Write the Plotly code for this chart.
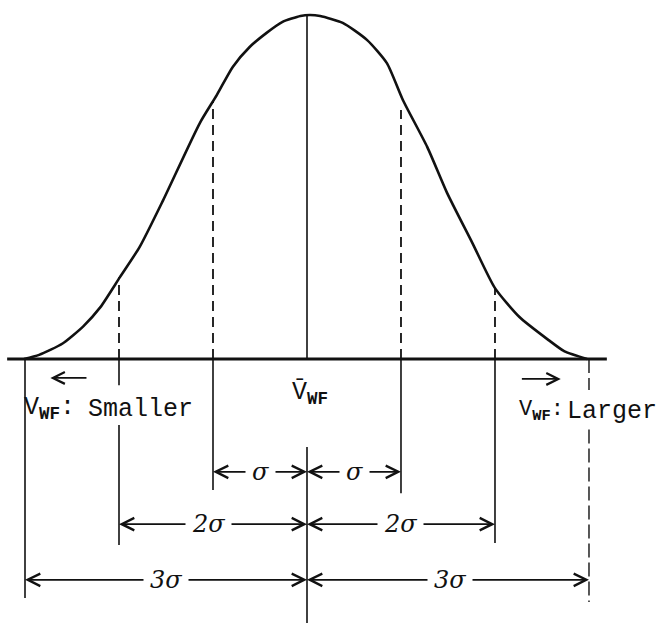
import plotly.graph_objects as go

# Distribution curve, x in units of sigma from the mean, y as relative height
curve_x = [-3.01, -2.85, -2.60, -2.38, -2.20, -1.99, -1.78, -1.53, -1.14, -0.96,
           -0.79, -0.61, -0.43, -0.26, -0.07, 0.03, 0.14, 0.38, 0.64, 0.85, 1.02,
           1.28, 1.49, 1.76, 2.00, 2.26, 2.57, 2.74, 2.98]
curve_y = [0.0, 0.012, 0.045, 0.095, 0.150, 0.238, 0.326, 0.462, 0.686, 0.767,
           0.849, 0.907, 0.948, 0.980, 0.997, 1.0, 0.997, 0.977, 0.927, 0.860,
           0.753, 0.616, 0.483, 0.337, 0.206, 0.122, 0.055, 0.022, 0.0]

# Dashed guides from the curve down to the baseline
guide_x = [-2, -1, 1, 2]
guide_top = [0.238, 0.747, 0.724, 0.206]

# Extension lines below the baseline
ext_x = [-3, -1, 1, 2]
ext_bottom = [-0.695, -0.381, -0.390, -0.535]

# Dimension rows
dim_n = [1, 2, 3]
dim_labels = ["σ", "2σ", "3σ"]
dim_y = [-0.328, -0.480, -0.642]
dim_label_left = [-0.50, -1.05, -1.50]
dim_label_right = [0.50, 1.00, 1.52]

side_prefix = "V<sub><b>WF</b></sub>:"
side_words = ["Smaller", "Larger"]
mean_label = "V\u0304<sub><b>WF</b></sub>"

INK = "#111111"

fig = go.Figure()

fig.add_trace(go.Scatter(x=curve_x, y=curve_y, mode="lines",
                         line=dict(color=INK, width=2.6, shape="spline", smoothing=0.6),
                         hoverinfo="skip", showlegend=False))

shapes = []
# baseline
shapes.append(dict(type="line", x0=-3.19, x1=3.19, y0=0, y1=0,
                   line=dict(color=INK, width=3)))
# mean line: curve peak to baseline, then below the label down to the edge
shapes.append(dict(type="line", x0=0, x1=0, y0=0, y1=1.0, line=dict(color=INK, width=1.6)))
shapes.append(dict(type="line", x0=0, x1=0, y0=-0.256, y1=-0.77, line=dict(color=INK, width=1.6)))
for gx, gt in zip(guide_x, guide_top):
    shapes.append(dict(type="line", x0=gx, x1=gx, y0=0, y1=gt,
                       line=dict(color=INK, width=1.8, dash="10px,6px")))
for ex, eb in zip(ext_x, ext_bottom):
    shapes.append(dict(type="line", x0=ex, x1=ex, y0=0, y1=eb,
                       line=dict(color=INK, width=1.6)))
# left 2 sigma extension, broken around the side label
shapes.append(dict(type="line", x0=-2, x1=-2, y0=0, y1=-0.076, line=dict(color=INK, width=1.6)))
shapes.append(dict(type="line", x0=-2, x1=-2, y0=-0.192, y1=-0.541, line=dict(color=INK, width=1.6)))
# right 3 sigma extension is dashed and broken around the side label
shapes.append(dict(type="line", x0=3, x1=3, y0=0, y1=-0.09,
                   line=dict(color=INK, width=1.4, dash="14px,5px")))
shapes.append(dict(type="line", x0=3, x1=3, y0=-0.205, y1=-0.706,
                   line=dict(color=INK, width=1.4, dash="14px,5px")))

annotations = []
# dimension arrows
for n, yv, lx, rx in zip(dim_n, dim_y, dim_label_left, dim_label_right):
    for end, lab in ((-n, lx), (0, lx), (0, rx), (n, rx)):
        annotations.append(dict(x=end, y=yv, ax=lab, ay=yv, xref="x", yref="y",
                                axref="x", ayref="y", text="", showarrow=True,
                                arrowhead=5, arrowsize=1.3, arrowwidth=1.9,
                                arrowcolor=INK, standoff=0, startstandoff=0))
for lab, yv, lx, rx in zip(dim_labels, dim_y, dim_label_left, dim_label_right):
    for px in (lx, rx):
        annotations.append(dict(x=px, y=yv, xref="x", yref="y", text="<i>" + lab + "</i>",
                                showarrow=False, bgcolor="white", borderpad=6,
                                font=dict(family="DejaVu Serif", size=24, color=INK)))

# direction arrows along the baseline
annotations.append(dict(x=-2.73, y=-0.055, ax=-2.33, ay=-0.055, xref="x", yref="y",
                        axref="x", ayref="y", text="", showarrow=True, arrowhead=5,
                        arrowsize=1.3, arrowwidth=1.8, arrowcolor=INK, standoff=0))
annotations.append(dict(x=2.70, y=-0.058, ax=2.27, ay=-0.058, xref="x", yref="y",
                        axref="x", ayref="y", text="", showarrow=True, arrowhead=5,
                        arrowsize=1.3, arrowwidth=1.8, arrowcolor=INK, standoff=0))

mono = dict(family="Liberation Mono", size=25, color=INK)
mono_small = dict(family="Liberation Mono", size=22, color=INK)
# smaller side
annotations.append(dict(x=-3.03, y=-0.145, xref="x", yref="y", xanchor="left",
                        text=side_prefix, showarrow=False, font=mono))
annotations.append(dict(x=-2.35, y=-0.148, xref="x", yref="y", xanchor="left",
                        text=side_words[0], showarrow=False, font=mono))
# larger side
annotations.append(dict(x=2.76, y=-0.150, xref="x", yref="y", xanchor="right",
                        text=side_prefix, showarrow=False, font=mono_small, bgcolor="white"))
annotations.append(dict(x=2.75, y=-0.152, xref="x", yref="y", xanchor="left",
                        text=side_words[1], showarrow=False, font=mono))
annotations.append(dict(x=0.03, y=-0.10, xref="x", yref="y", xanchor="center",
                        text=mean_label, showarrow=False, font=mono))

fig.update_layout(
    width=664, height=623,
    margin=dict(l=0, r=0, t=0, b=0),
    paper_bgcolor="white", plot_bgcolor="white",
    xaxis=dict(range=[-3.266, 3.798], visible=False, fixedrange=True),
    yaxis=dict(range=[-0.7674, 1.0436], visible=False, fixedrange=True),
    shapes=shapes, annotations=annotations, showlegend=False,
)

fig.write_html("out.html")
